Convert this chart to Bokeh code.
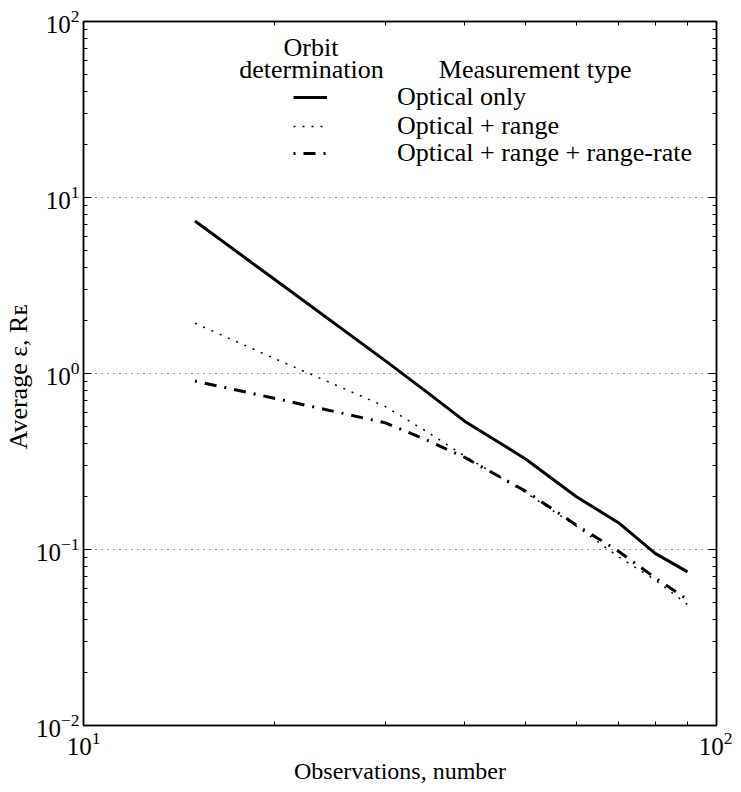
import math
from bokeh.plotting import figure
from bokeh.models import (FixedTicker, LogTicker, LogTickFormatter, LogAxis, Label,
                          Legend, LegendItem, Range1d, CustomJSTickFormatter)
from bokeh.embed import file_html
from bokeh.resources import INLINE

# ---- data ----
observations = [15, 20, 30, 35, 40, 50, 60, 70, 80, 90]
optical_only = [7.36, 3.44, 1.18, 0.776, 0.536, 0.326, 0.200, 0.142, 0.095, 0.0746]
optical_range = [1.93, 1.22, 0.648, 0.463, 0.340, 0.210, 0.136, 0.091, 0.0671, 0.0487]
optical_range_rate = [0.906, 0.724, 0.524, 0.416, 0.334, 0.214, 0.138, 0.0978, 0.069, 0.052]
series_labels = ["Optical only", "Optical + range", "Optical + range + range-rate"]

x_major_ticks = [10, 100]
y_major_ticks = [0.01, 0.1, 1, 10, 100]
grid_ticks = [0.1, 1, 10]
minor_steps = [2, 3, 4, 5, 6, 7, 8, 9]

x_label = "Observations, number"
y_label = "Average  ε, R\u1d07"
legend_header_left = ["Orbit", "determination"]
legend_header_right = "Measurement type"

FONT = "Liberation Serif"

x_minor = [m * 10 for m in minor_steps]
y_minor = [m * d for d in [0.01, 0.1, 1, 10] for m in minor_steps]

p = figure(width=732, height=789, x_axis_type="log", y_axis_type="log",
           x_range=Range1d(10, 100), y_range=Range1d(0.01, 100),
           output_backend="svg", toolbar_location=None,
           min_border_left=82, min_border_right=16, min_border_top=21,
           min_border_bottom=64)
p.background_fill_color = "white"
p.border_fill_color = "white"
p.outline_line_color = "black"
p.outline_line_width = 1.5


def style_axis(ax, ticks, minor, show_labels=True):
    ax.ticker = FixedTicker(ticks=ticks, minor_ticks=minor)
    ax.axis_line_color = "black"
    ax.axis_line_width = 1.5
    ax.major_tick_in = 8
    ax.major_tick_out = 0
    ax.minor_tick_in = 4
    ax.minor_tick_out = 0
    ax.major_tick_line_width = 1
    ax.minor_tick_line_width = 1
    ax.major_tick_line_color = "black"
    ax.minor_tick_line_color = "black"
    ax.major_label_text_font = FONT
    ax.major_label_text_color = "black"
    if show_labels:
        ax.formatter = LogTickFormatter(ticker=LogTicker())
        ax.major_label_text_font_size = "25px"
    else:
        ax.formatter = CustomJSTickFormatter(code="return ''")
        ax.major_label_text_font_size = "2px"
        ax.major_label_standoff = 0


xa = p.xaxis[0]
ya = p.yaxis[0]
style_axis(xa, x_major_ticks, x_minor)
style_axis(ya, y_major_ticks, y_minor)
xa.major_label_standoff = 6
ya.major_label_standoff = 4

xa.axis_label = x_label
xa.axis_label_text_font = FONT
xa.axis_label_text_font_size = "24px"
xa.axis_label_text_font_style = "normal"
xa.axis_label_text_color = "black"
xa.axis_label_standoff = 0

ya.axis_label = y_label
ya.axis_label_text_font = FONT
ya.axis_label_text_font_size = "26px"
ya.axis_label_text_font_style = "normal"
ya.axis_label_text_color = "black"
ya.axis_label_standoff = 0

top = LogAxis()
style_axis(top, x_major_ticks, x_minor, show_labels=False)
right = LogAxis()
style_axis(right, y_major_ticks, y_minor, show_labels=False)
p.add_layout(top, "above")
p.add_layout(right, "right")

p.xgrid.visible = False
p.ygrid.ticker = FixedTicker(ticks=grid_ticks)
p.ygrid.grid_line_color = "#333333"
p.ygrid.grid_line_dash = "1 5"
p.ygrid.grid_line_width = 1

r1 = p.line(observations, optical_only, line_color="black", line_width=3)
r2 = p.line(observations, optical_range, line_color="black", line_width=1.5,
            line_dash="2 7")
r3 = p.line(observations, optical_range_rate, line_color="black", line_width=3,
            line_dash="2 8 12 8")

# one legend per row so that each row sits exactly where the reference has it
legend_rows = [(r1, 607.7), (r2, 579.3), (r3, 551.7)]
for (rend, ly), name in zip(legend_rows, series_labels):
    lg = Legend(items=[LegendItem(label=name, renderers=[rend])],
                location=(210, ly), orientation="vertical",
                glyph_width=34, glyph_height=40, label_height=40,
                label_standoff=70, spacing=0, padding=0, margin=0,
                label_text_font=FONT, label_text_font_size="26px",
                label_text_color="black",
                border_line_alpha=0, background_fill_alpha=0)
    p.add_layout(lg)


def lab(text, x, y, size="26px", align="left"):
    p.add_layout(Label(x=x, y=y, x_units="screen", y_units="screen", text=text,
                       text_font=FONT, text_font_size=size, text_align=align,
                       text_baseline="alphabetic", text_color="black"))


# legend headers (frame-relative screen coordinates)
lab(legend_header_left[0], 227.5, 678.5, align="center")
lab(legend_header_left[1], 228, 656.5, align="center")
lab(legend_header_right, 355.3, 656.5)

open("out.html", "w").write(file_html(p, INLINE))
